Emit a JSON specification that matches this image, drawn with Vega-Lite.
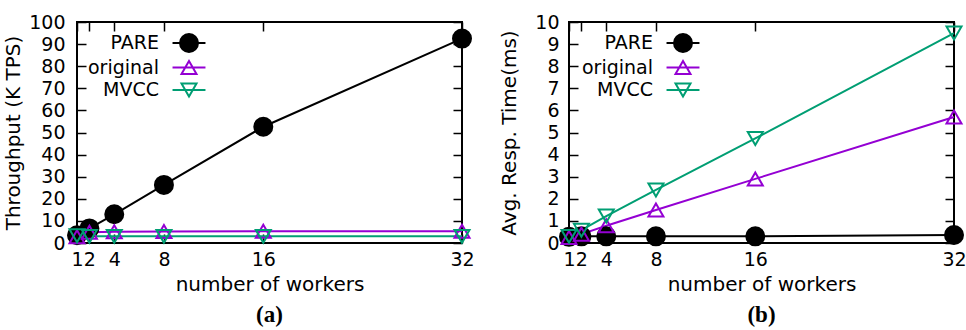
{
  "$schema": "https://vega.github.io/schema/vega-lite/v6.json",
  "padding": {"left": 2, "top": 12, "right": 0, "bottom": 4},
  "datasets": {
    "tp": [
      {"workers": 1, "system": "PARE", "value": 3.5},
      {"workers": 2, "system": "PARE", "value": 6.6},
      {"workers": 4, "system": "PARE", "value": 13.0},
      {"workers": 8, "system": "PARE", "value": 26.3},
      {"workers": 16, "system": "PARE", "value": 52.6},
      {"workers": 32, "system": "PARE", "value": 92.5},
      {"workers": 1, "system": "original", "value": 2.8},
      {"workers": 2, "system": "original", "value": 4.9},
      {"workers": 4, "system": "original", "value": 5.1},
      {"workers": 8, "system": "original", "value": 5.2},
      {"workers": 16, "system": "original", "value": 5.3},
      {"workers": 32, "system": "original", "value": 5.3},
      {"workers": 1, "system": "MVCC", "value": 3.3},
      {"workers": 2, "system": "MVCC", "value": 3.0},
      {"workers": 4, "system": "MVCC", "value": 3.0},
      {"workers": 8, "system": "MVCC", "value": 3.0},
      {"workers": 16, "system": "MVCC", "value": 3.0},
      {"workers": 32, "system": "MVCC", "value": 3.0}
    ],
    "rt": [
      {"workers": 1, "system": "PARE", "value": 0.28},
      {"workers": 2, "system": "PARE", "value": 0.3},
      {"workers": 4, "system": "PARE", "value": 0.3},
      {"workers": 8, "system": "PARE", "value": 0.3},
      {"workers": 16, "system": "PARE", "value": 0.3},
      {"workers": 32, "system": "PARE", "value": 0.36},
      {"workers": 1, "system": "original", "value": 0.25},
      {"workers": 2, "system": "original", "value": 0.4},
      {"workers": 4, "system": "original", "value": 0.78},
      {"workers": 8, "system": "original", "value": 1.49},
      {"workers": 16, "system": "original", "value": 2.9},
      {"workers": 32, "system": "original", "value": 5.7},
      {"workers": 1, "system": "MVCC", "value": 0.3},
      {"workers": 2, "system": "MVCC", "value": 0.58},
      {"workers": 4, "system": "MVCC", "value": 1.22},
      {"workers": 8, "system": "MVCC", "value": 2.4},
      {"workers": 16, "system": "MVCC", "value": 4.73},
      {"workers": 32, "system": "MVCC", "value": 9.5}
    ]
  },
  "spacing": 22,
  "hconcat": [
    {
      "width": 385,
      "height": 221,
      "data": {"name": "tp"},
      "title": {"text": "(a)", "orient": "bottom", "font": "Liberation Serif", "fontWeight": "bold", "fontSize": 23, "offset": 10, "color": "black"},
      "layer": [
        {
          "mark": {"type": "line", "strokeWidth": 2},
          "encoding": {
            "x": {"field": "workers", "type": "quantitative", "scale": {"domain": [1, 32], "nice": false, "zero": false},
              "axis": {"orient": "bottom", "values": [1, 2, 4, 8, 16, 32], "title": "number of workers", "tickSize": -9, "labelPadding": 16, "titlePadding": 5}},
            "y": {"field": "value", "type": "quantitative", "scale": {"domain": [0, 100], "nice": false},
              "axis": {"orient": "left", "values": [0, 10, 20, 30, 40, 50, 60, 70, 80, 90, 100], "title": "Throughput (K TPS)", "tickSize": -9, "labelPadding": 21, "titlePadding": 5}},
            "color": {"field": "system", "type": "nominal", "scale": {"domain": ["PARE", "original", "MVCC"], "range": ["#000000", "#9400D3", "#009E73"]}}
          }
        },
        {
          "mark": {"type": "point", "filled": false, "strokeWidth": 2, "opacity": 1},
          "encoding": {
            "x": {"field": "workers", "type": "quantitative", "axis": {"orient": "top", "values": [1, 2, 4, 8, 16, 32], "labels": false, "title": null, "tickSize": -9}},
            "y": {"field": "value", "type": "quantitative", "axis": {"orient": "right", "values": [0, 10, 20, 30, 40, 50, 60, 70, 80, 90, 100], "labels": false, "title": null, "tickSize": -9}},
            "color": {"field": "system", "type": "nominal", "scale": {"domain": ["PARE", "original", "MVCC"], "range": ["#000000", "#9400D3", "#009E73"]},
              "legend": {"orient": "none", "legendX": 102, "legendY": 11, "title": null, "symbolSize": 324, "symbolStrokeWidth": 2, "labelAlign": "right", "labelOffset": -40, "rowPadding": 0.5, "labelFontSize": 19, "labelFont": "DejaVu Sans", "labelColor": "black",
                "encoding": {"symbols": {
                  "shape": {"value": {"expr": "datum.value === 'PARE' ? 'M-1.83,0L1.83,0M-1,0A1,1 0 1,0 1,0A1,1 0 1,0 -1,0Z' : datum.value === 'original' ? 'M-1.83,0L1.83,0M0,-0.72L-0.833,0.72L0.833,0.72Z' : 'M-1.83,0L1.83,0M0,0.72L-0.833,-0.72L0.833,-0.72Z'"}},
                  "fill": {"value": {"expr": "datum.value === 'PARE' ? 'black' : 'transparent'"}},
                  "opacity": {"value": 1}
                }}}},
            "shape": {"condition": [{"test": "datum.system === 'PARE'", "value": "circle"}, {"test": "datum.system === 'original'", "value": "triangle-up"}], "value": "triangle-down"},
            "fill": {"condition": {"test": "datum.system === 'PARE'", "value": "black"}, "value": "transparent"},
            "size": {"condition": {"test": "datum.system === 'PARE'", "value": 324}, "value": 225}
          }
        }
      ],
      "resolve": {"axis": {"x": "independent", "y": "independent"}}
    },
    {
      "width": 385,
      "height": 221,
      "data": {"name": "rt"},
      "title": {"text": "(b)", "orient": "bottom", "font": "Liberation Serif", "fontWeight": "bold", "fontSize": 23, "offset": 10, "color": "black"},
      "layer": [
        {
          "mark": {"type": "line", "strokeWidth": 2},
          "encoding": {
            "x": {"field": "workers", "type": "quantitative", "scale": {"domain": [1, 32], "nice": false, "zero": false},
              "axis": {"orient": "bottom", "values": [1, 2, 4, 8, 16, 32], "title": "number of workers", "tickSize": -9, "labelPadding": 16, "titlePadding": 5}},
            "y": {"field": "value", "type": "quantitative", "scale": {"domain": [0, 10], "nice": false},
              "axis": {"orient": "left", "values": [0, 1, 2, 3, 4, 5, 6, 7, 8, 9, 10], "title": "Avg. Resp. Time(ms)", "tickSize": -9, "labelPadding": 19, "titlePadding": 15}},
            "color": {"field": "system", "type": "nominal", "scale": {"domain": ["PARE", "original", "MVCC"], "range": ["#000000", "#9400D3", "#009E73"]}}
          }
        },
        {
          "mark": {"type": "point", "filled": false, "strokeWidth": 2, "opacity": 1},
          "encoding": {
            "x": {"field": "workers", "type": "quantitative", "axis": {"orient": "top", "values": [1, 2, 4, 8, 16, 32], "labels": false, "title": null, "tickSize": -9}},
            "y": {"field": "value", "type": "quantitative", "axis": {"orient": "right", "values": [0, 1, 2, 3, 4, 5, 6, 7, 8, 9, 10], "labels": false, "title": null, "tickSize": -9}},
            "color": {"field": "system", "type": "nominal", "scale": {"domain": ["PARE", "original", "MVCC"], "range": ["#000000", "#9400D3", "#009E73"]},
              "legend": {"orient": "none", "legendX": 104, "legendY": 11, "title": null, "symbolSize": 324, "symbolStrokeWidth": 2, "labelAlign": "right", "labelOffset": -40, "rowPadding": 0.5, "labelFontSize": 19, "labelFont": "DejaVu Sans", "labelColor": "black",
                "encoding": {"symbols": {
                  "shape": {"value": {"expr": "datum.value === 'PARE' ? 'M-1.83,0L1.83,0M-1,0A1,1 0 1,0 1,0A1,1 0 1,0 -1,0Z' : datum.value === 'original' ? 'M-1.83,0L1.83,0M0,-0.72L-0.833,0.72L0.833,0.72Z' : 'M-1.83,0L1.83,0M0,0.72L-0.833,-0.72L0.833,-0.72Z'"}},
                  "fill": {"value": {"expr": "datum.value === 'PARE' ? 'black' : 'transparent'"}},
                  "opacity": {"value": 1}
                }}}},
            "shape": {"condition": [{"test": "datum.system === 'PARE'", "value": "circle"}, {"test": "datum.system === 'original'", "value": "triangle-up"}], "value": "triangle-down"},
            "fill": {"condition": {"test": "datum.system === 'PARE'", "value": "black"}, "value": "transparent"},
            "size": {"condition": {"test": "datum.system === 'PARE'", "value": 324}, "value": 225}
          }
        }
      ],
      "resolve": {"axis": {"x": "independent", "y": "independent"}}
    }
  ],
  "resolve": {"scale": {"color": "independent"}, "legend": {"color": "independent"}},
  "config": {
    "view": {"stroke": "black", "strokeWidth": 2},
    "axis": {
      "domain": false, "grid": false, "ticks": true, "tickColor": "black", "tickWidth": 1.5,
      "labelFont": "DejaVu Sans", "labelFontSize": 19, "labelColor": "black", "labelFlush": false, "labelOverlap": false,
      "titleFont": "DejaVu Sans", "titleFontSize": 20, "titleFontWeight": "normal", "titleColor": "black"
    }
  }
}
